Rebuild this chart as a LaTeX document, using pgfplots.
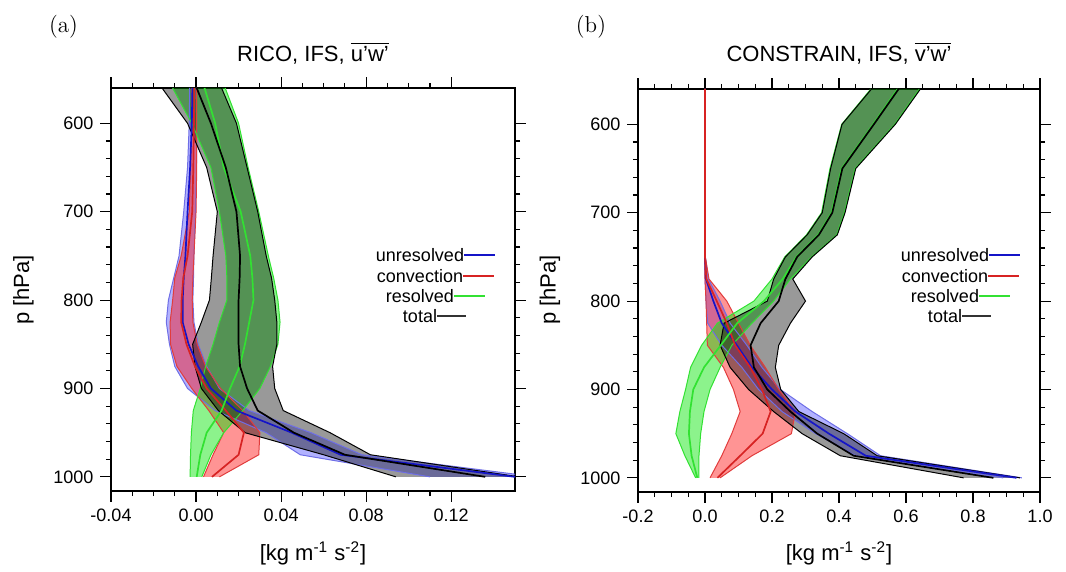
\documentclass[border=0pt]{standalone}
\usepackage{fontspec}
\setsansfont{Liberation Sans}
\usepackage{pgfplots}
\pgfplotsset{compat=1.18}
\usepackage{pgfplotstable}
\usepgfplotslibrary{fillbetween}

\definecolor{ublue}{RGB}{20,20,200}
\definecolor{uedge}{RGB}{110,110,230}
\definecolor{cred}{RGB}{215,35,35}
\definecolor{credge}{RGB}{225,60,60}
\definecolor{rgreen}{RGB}{50,225,50}

% p, unresolved (c,l,h), convection (c,l,h), resolved (c,l,h), total (c,l,h)
\pgfplotstableread{
p uc ul uh cc cl ch rc rl rh tc tl th
560 -0.0017 -0.0030 0.0000 -0.0008 -0.0020 0.0003 0.0040 -0.0110 0.0137 0.0003 -0.0160 0.0120
600 -0.0020 -0.0032 0.0003 -0.0010 -0.0020 0.0003 0.0090 -0.0020 0.0200 0.0070 -0.0040 0.0190
650 -0.0028 -0.0040 0.0002 -0.0013 -0.0025 0.0003 0.0130 0.0070 0.0245 0.0140 0.0050 0.0240
700 -0.0040 -0.0058 -0.0003 -0.0018 -0.0032 0.0000 0.0210 0.0110 0.0295 0.0190 0.0100 0.0290
750 -0.0050 -0.0080 -0.0010 -0.0040 -0.0070 -0.0010 0.0255 0.0140 0.0340 0.0207 0.0080 0.0330
775 -0.0058 -0.0105 -0.0012 -0.0060 -0.0100 -0.0015 0.0265 0.0145 0.0365 0.0205 0.0072 0.0355
800 -0.0063 -0.0130 -0.0015 -0.0068 -0.0110 -0.0018 0.0270 0.0145 0.0385 0.0200 0.0063 0.0370
825 -0.0063 -0.0140 -0.0010 -0.0070 -0.0122 -0.0015 0.0250 0.0110 0.0395 0.0200 0.0025 0.0380
850 -0.0035 -0.0125 0.0010 -0.0045 -0.0120 0.0005 0.0230 0.0080 0.0385 0.0200 -0.0016 0.0380
875 0.0010 -0.0100 0.0050 -0.0005 -0.0090 0.0045 0.0205 0.0045 0.0350 0.0207 -0.0005 0.0360
900 0.0070 -0.0040 0.0110 0.0050 -0.0020 0.0115 0.0160 0.0020 0.0300 0.0240 0.0025 0.0370
925 0.0190 0.0090 0.0250 0.0140 0.0060 0.0220 0.0120 -0.0013 0.0220 0.0290 0.0105 0.0410
950 0.0450 0.0330 0.0540 0.0225 0.0130 0.0300 0.0050 -0.0022 0.0130 0.0460 0.0230 0.0630
975 0.0680 0.0490 0.0780 0.0200 0.0080 0.0295 0.0020 -0.0026 0.0070 0.0700 0.0600 0.0820
1000 0.1500 0.1100 0.1600 0.0075 0.0035 0.0110 0.0003 -0.0028 0.0027 0.1360 0.0940 0.1520
}\dataA

\pgfplotstableread{
p uc ul uh cc cl ch rc rl rh tc tl th
560 0 -0.001 0.001 0 -0.001 0.001 0.575 0.495 0.640 0.578 0.497 0.643
600 0 -0.001 0.001 0 -0.001 0.001 0.502 0.408 0.566 0.504 0.409 0.568
650 0 -0.001 0.001 0 -0.001 0.001 0.408 0.373 0.448 0.410 0.375 0.450
700 0 -0.001 0.001 0 -0.001 0.001 0.378 0.348 0.416 0.380 0.350 0.418
725 0 -0.001 0.001 0 -0.001 0.001 0.338 0.303 0.393 0.340 0.305 0.395
750 0 -0.001 0.001 0 -0.001 0.001 0.273 0.238 0.318 0.275 0.240 0.320
775 0.003 0.000 0.010 0.004 0.000 0.012 0.232 0.200 0.255 0.240 0.205 0.262
800 0.025 0.003 0.045 0.035 0.003 0.065 0.176 0.146 0.205 0.220 0.186 0.300
825 0.050 0.008 0.075 0.065 0.005 0.100 0.096 0.037 0.140 0.166 0.057 0.255
850 0.095 0.050 0.125 0.090 0.007 0.135 0.047 -0.010 0.080 0.136 0.045 0.220
875 0.140 0.110 0.170 0.135 0.055 0.180 -0.003 -0.043 0.045 0.146 0.075 0.210
900 0.200 0.160 0.225 0.170 0.085 0.220 -0.035 -0.058 0.015 0.186 0.130 0.226
925 0.270 0.230 0.320 0.196 0.105 0.270 -0.045 -0.075 -0.003 0.255 0.205 0.280
950 0.370 0.330 0.425 0.172 0.080 0.258 -0.048 -0.087 -0.013 0.335 0.290 0.414
975 0.480 0.450 0.524 0.105 0.050 0.140 -0.040 -0.060 -0.018 0.444 0.404 0.514
1000 0.930 0.890 0.946 0.037 0.015 0.045 -0.023 -0.028 -0.018 0.861 0.772 0.940
}\dataB

% band: table, lo, hi, edge colour, fill colour, opacity, name
\newcommand{\band}[7]{%
  \addplot[name path=#7lo, draw=#4, line width=0.5pt] table[x=#2,y=p]{#1};
  \addplot[name path=#7hi, draw=#4, line width=0.5pt] table[x=#3,y=p]{#1};
  \addplot[fill=#5, fill opacity=#6, draw=none] fill between[of=#7lo and #7hi, reverse=true];
}
\newcommand{\allbands}[2]{%
  \band{#1}{ul}{uh}{uedge}{blue}{0.3}{#2u}
  \band{#1}{cl}{ch}{credge}{red}{0.42}{#2c}
  \band{#1}{rl}{rh}{rgreen}{green!90!black}{0.45}{#2r}
  \band{#1}{tl}{th}{black}{black}{0.4}{#2t}
  \addplot[ublue, line width=0.85pt] table[x=uc,y=p]{#1};
  \addplot[cred, line width=0.85pt] table[x=cc,y=p]{#1};
  \addplot[rgreen, line width=0.85pt] table[x=rc,y=p]{#1};
  \addplot[black, line width=0.85pt] table[x=tc,y=p]{#1};
}

\pgfplotsset{prof/.style={
  scale only axis, height=201.5pt,
  y dir=reverse, ymin=560, ymax=1016,
  ytick={600,700,800,900,1000}, yticklabels={600,700,800,900,1000},
  minor y tick num=4, minor x tick num=3,
  tick align=outside, major tick length=5.3pt, minor tick length=2.6pt,
  axis line style={line width=0.75pt},
  every tick/.style={black, line width=0.6pt},
  ticklabel style={font=\sffamily\fontsize{9}{10}\selectfont},
  clip=true,
}}

\begin{document}
\begin{tikzpicture}
\path (0,0) rectangle (533pt,-284.5pt);

\begin{axis}[prof, at={(55.5pt,-44pt)}, anchor=north west, width=202pt,
  xmin=-0.04, xmax=0.15,
  xtick={-0.04,0,0.04,0.08,0.12}, xticklabels={-0.04,0.00,0.04,0.08,0.12}]
\allbands{\dataA}{A}
\end{axis}

\begin{axis}[prof, at={(319pt,-44.5pt)}, anchor=north west, width=201pt,
  xmin=-0.2, xmax=1.0,
  xtick={-0.2,0,0.2,0.4,0.6,0.8,1.0}, xticklabels={-0.2,0.0,0.2,0.4,0.6,0.8,1.0}]
\allbands{\dataB}{B}
\end{axis}

% panel letters
\node[font=\fontsize{11.5}{13}\selectfont] at (31.75pt,-13.25pt) {(a)};
\node[font=\fontsize{11.5}{13}\selectfont] at (295.5pt,-13.25pt) {(b)};
% titles
\node[anchor=base, font=\sffamily\fontsize{11}{13}\selectfont] at (156.5pt,-30.8pt) {RICO, IFS, $\overline{\mbox{u'w'}}$};
\node[anchor=base, font=\sffamily\fontsize{11}{13}\selectfont] at (419.5pt,-30.8pt) {CONSTRAIN, IFS, $\overline{\mbox{v'w'}}$};
% axis labels
\node[rotate=90, font=\sffamily\fontsize{11}{13}\selectfont] at (11.75pt,-145pt) {p [hPa]};
\node[rotate=90, font=\sffamily\fontsize{11}{13}\selectfont] at (275pt,-145pt) {p [hPa]};
\node[font=\sffamily\fontsize{11}{13}\selectfont] at (156.5pt,-276.5pt) {[kg m\textsuperscript{-1} s\textsuperscript{-2}]};
\node[font=\sffamily\fontsize{11}{13}\selectfont] at (419.5pt,-276.5pt) {[kg m\textsuperscript{-1} s\textsuperscript{-2}]};

% legends
\foreach \lx/\pn in {210/a,472.5/b}{
  \node[font=\sffamily\fontsize{9}{10}\selectfont, inner sep=0pt] (u\pn) at (\lx pt,-127.5pt) {unresolved};
  \draw[ublue, line width=0.6pt] (u\pn.east) -- ++(15.5pt,0);
  \node[font=\sffamily\fontsize{9}{10}\selectfont, inner sep=0pt] (c\pn) at (\lx pt,-138pt) {convection};
  \draw[cred, line width=0.6pt] (c\pn.east) -- ++(15.5pt,0);
  \node[font=\sffamily\fontsize{9}{10}\selectfont, inner sep=0pt] (r\pn) at (\lx pt,-148pt) {resolved};
  \draw[rgreen, line width=0.6pt] (r\pn.east) -- ++(15.5pt,0);
  \node[font=\sffamily\fontsize{9}{10}\selectfont, inner sep=0pt] (t\pn) at (\lx pt,-158pt) {total};
  \draw[black!80, line width=0.6pt] (t\pn.east) -- ++(14.5pt,0);
}
\end{tikzpicture}
\end{document}
